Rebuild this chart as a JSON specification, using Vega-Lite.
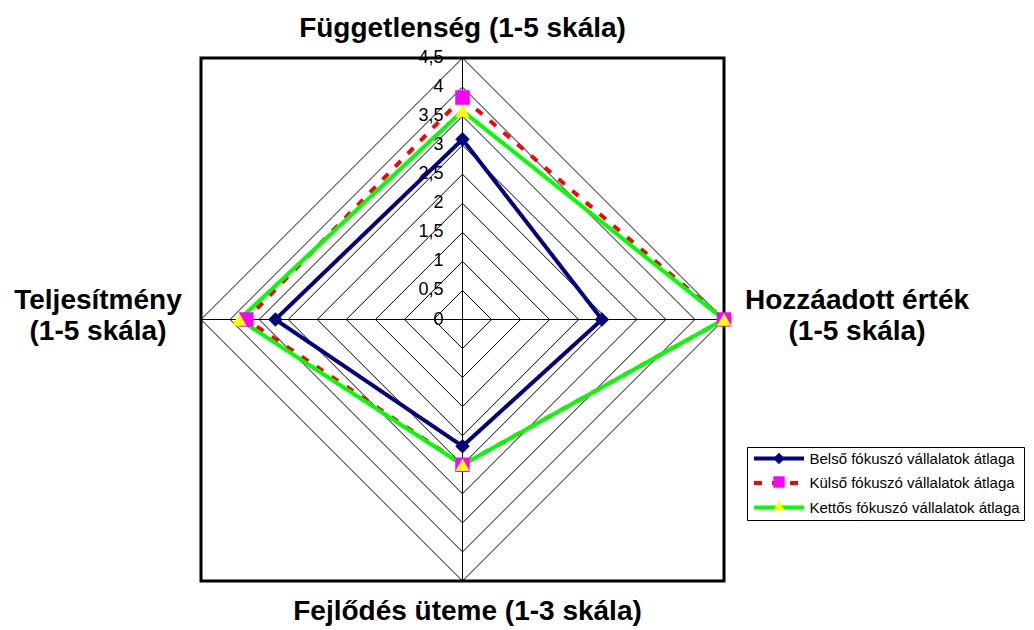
{
  "$schema": "https://vega.github.io/schema/vega-lite/v6.json",
  "width": 523,
  "height": 523,
  "autosize": {"type": "none"},
  "padding": {"left": 201, "top": 58, "right": 310, "bottom": 49},
  "background": "white",
  "config": {
    "view": {"stroke": "black", "strokeWidth": 3},
    "font": "Liberation Sans"
  },
  "datasets": {
    "series": [
      {"s": "Belső fókuszó vállalatok átlaga", "k": 0, "v": 3.1},
      {"s": "Belső fókuszó vállalatok átlaga", "k": 1, "v": 2.4},
      {"s": "Belső fókuszó vállalatok átlaga", "k": 2, "v": 2.18},
      {"s": "Belső fókuszó vállalatok átlaga", "k": 3, "v": 3.22},
      {"s": "Belső fókuszó vállalatok átlaga", "k": 4, "v": 3.1},
      {"s": "Külső fókuszó vállalatok átlaga", "k": 0, "v": 3.82},
      {"s": "Külső fókuszó vállalatok átlaga", "k": 1, "v": 4.5},
      {"s": "Külső fókuszó vállalatok átlaga", "k": 2, "v": 2.5},
      {"s": "Külső fókuszó vállalatok átlaga", "k": 3, "v": 3.72},
      {"s": "Külső fókuszó vállalatok átlaga", "k": 4, "v": 3.82},
      {"s": "Kettős fókuszó vállalatok átlaga", "k": 0, "v": 3.59},
      {"s": "Kettős fókuszó vállalatok átlaga", "k": 1, "v": 4.5},
      {"s": "Kettős fókuszó vállalatok átlaga", "k": 2, "v": 2.5},
      {"s": "Kettős fókuszó vállalatok átlaga", "k": 3, "v": 3.84},
      {"s": "Kettős fókuszó vállalatok átlaga", "k": 4, "v": 3.59}
    ],
    "grid": [
      {"r": 0.5, "k": [0, 1, 2, 3, 4]},
      {"r": 1, "k": [0, 1, 2, 3, 4]},
      {"r": 1.5, "k": [0, 1, 2, 3, 4]},
      {"r": 2, "k": [0, 1, 2, 3, 4]},
      {"r": 2.5, "k": [0, 1, 2, 3, 4]},
      {"r": 3, "k": [0, 1, 2, 3, 4]},
      {"r": 3.5, "k": [0, 1, 2, 3, 4]},
      {"r": 4, "k": [0, 1, 2, 3, 4]},
      {"r": 4.5, "k": [0, 1, 2, 3, 4]}
    ],
    "spokes": [
      {"x": 0, "y": -4.5, "x2": 0, "y2": 4.5},
      {"x": -4.5, "y": 0, "x2": 4.5, "y2": 0}
    ],
    "ticks": [
      {"v": 0, "t": "0"},
      {"v": 0.5, "t": "0,5"},
      {"v": 1, "t": "1"},
      {"v": 1.5, "t": "1,5"},
      {"v": 2, "t": "2"},
      {"v": 2.5, "t": "2,5"},
      {"v": 3, "t": "3"},
      {"v": 3.5, "t": "3,5"},
      {"v": 4, "t": "4"},
      {"v": 4.5, "t": "4,5"}
    ]
  },
  "encoding": {
    "x": {"type": "quantitative", "scale": {"domain": [-4.5, 4.5], "nice": false, "zero": false}, "axis": null},
    "y": {"type": "quantitative", "scale": {"domain": [-4.5, 4.5], "nice": false, "zero": false}, "axis": null}
  },
  "layer": [
    {
      "data": {"name": "grid"},
      "transform": [
        {"flatten": ["k"]},
        {"calculate": "datum.r * sin(datum.k * PI / 2)", "as": "gx"},
        {"calculate": "datum.r * cos(datum.k * PI / 2)", "as": "gy"}
      ],
      "mark": {"type": "line", "color": "black", "strokeWidth": 1},
      "encoding": {
        "x": {"field": "gx", "type": "quantitative"},
        "y": {"field": "gy", "type": "quantitative"},
        "detail": {"field": "r", "type": "nominal"},
        "order": {"field": "k", "type": "quantitative"}
      }
    },
    {
      "data": {"name": "spokes"},
      "mark": {"type": "rule", "color": "black", "strokeWidth": 1},
      "encoding": {
        "x": {"field": "x", "type": "quantitative"},
        "y": {"field": "y", "type": "quantitative"},
        "x2": {"field": "x2"},
        "y2": {"field": "y2"}
      }
    },
    {
      "data": {"name": "ticks"},
      "mark": {"type": "text", "align": "right", "baseline": "middle", "dx": -19, "fontSize": 18, "color": "black", "font": "Liberation Sans"},
      "encoding": {
        "x": {"datum": 0},
        "y": {"field": "v", "type": "quantitative"},
        "text": {"field": "t"}
      }
    },
    {
      "data": {"name": "series"},
      "transform": [
        {"calculate": "datum.v * sin(datum.k * PI / 2)", "as": "px"},
        {"calculate": "datum.v * cos(datum.k * PI / 2)", "as": "py"}
      ],
      "mark": {"type": "line", "strokeWidth": 4},
      "encoding": {
        "x": {"field": "px", "type": "quantitative"},
        "y": {"field": "py", "type": "quantitative"},
        "order": {"field": "k", "type": "quantitative"},
        "color": {
          "field": "s", "type": "nominal",
          "scale": {"domain": ["Belső fókuszó vállalatok átlaga", "Külső fókuszó vállalatok átlaga", "Kettős fókuszó vállalatok átlaga"], "range": ["#000080", "#FF0000", "#00FF00"]},
          "legend": {
            "orient": "none", "legendX": 546, "legendY": 389, "title": null,
            "padding": 4, "strokeColor": "black", "fillColor": "white",
            "symbolType": "M-6.25,0H6.25", "symbolSize": 64, "symbolStrokeWidth": 4,
            "symbolOffset": 20.5, "labelOffset": 23, "labelFontSize": 15,
            "labelFont": "Liberation Sans", "labelColor": "black", "rowPadding": 7.5, "labelLimit": 300,
            "encode": {"symbols": {"update": {"strokeDash": {"signal": "datum.index == 1 ? [9, 11] : [1, 0]"}}}}
          }
        },
        "strokeDash": {
          "field": "s", "type": "nominal",
          "scale": {"domain": ["Belső fókuszó vállalatok átlaga", "Külső fókuszó vállalatok átlaga", "Kettős fókuszó vállalatok átlaga"], "range": [[1, 0], [8, 10], [1, 0]]},
          "legend": null
        }
      }
    },
    {
      "data": {"name": "series"},
      "transform": [
        {"filter": "datum.k < 4"},
        {"calculate": "datum.v * sin(datum.k * PI / 2)", "as": "px"},
        {"calculate": "datum.v * cos(datum.k * PI / 2)", "as": "py"}
      ],
      "mark": {"type": "point", "filled": true, "opacity": 1, "size": 210, "strokeWidth": 0},
      "encoding": {
        "x": {"field": "px", "type": "quantitative"},
        "y": {"field": "py", "type": "quantitative"},
        "fill": {
          "field": "s", "type": "nominal", "sort": null,
          "scale": {"range": ["#000080", "#FF00FF", "#FFFF00"]},
          "legend": {
            "orient": "none", "legendX": 546, "legendY": 389, "title": null,
            "padding": 4, "symbolSize": 130, "symbolStrokeWidth": 0, "symbolOpacity": 1,
            "symbolOffset": 20.5, "labelOffset": 23, "labelFontSize": 15, "labelExpr": "''",
            "labelFont": "Liberation Sans", "rowPadding": 7.5, "labelLimit": 300,
            "encode": {"symbols": {"update": {"size": {"value": 130}, "opacity": {"value": 1}}}}
          }
        },
        "shape": {
          "field": "s", "type": "nominal", "sort": null,
          "scale": {"range": ["diamond", "square", "triangle-up"]}
        }
      }
    },
    {
      "data": {"values": [{"t": "Függetlenség (1-5 skála)"}]},
      "mark": {"type": "text", "align": "center", "baseline": "alphabetic", "dy": -21, "fontSize": 28, "fontWeight": "bold", "color": "black", "font": "Liberation Sans"},
      "encoding": {"x": {"datum": 0}, "y": {"datum": 4.5}, "text": {"field": "t"}}
    },
    {
      "data": {"values": [{"t": "Fejlődés üteme (1-3 skála)"}]},
      "mark": {"type": "text", "align": "center", "baseline": "alphabetic", "dy": 39, "dx": 5, "fontSize": 28, "fontWeight": "bold", "color": "black", "font": "Liberation Sans"},
      "encoding": {"x": {"datum": 0}, "y": {"datum": -4.5}, "text": {"field": "t"}}
    },
    {
      "data": {"values": [{"t": ["Teljesítmény", "(1-5 skála)"]}]},
      "mark": {"type": "text", "align": "center", "baseline": "alphabetic", "dx": -103, "dy": -11, "lineHeight": 31, "fontSize": 28, "fontWeight": "bold", "color": "black", "font": "Liberation Sans"},
      "encoding": {"x": {"datum": -4.5}, "y": {"datum": 0}, "text": {"field": "t"}}
    },
    {
      "data": {"values": [{"t": ["Hozzáadott érték", "(1-5 skála)"]}]},
      "mark": {"type": "text", "align": "center", "baseline": "alphabetic", "dx": 133, "dy": -11, "lineHeight": 31, "fontSize": 28, "fontWeight": "bold", "color": "black", "font": "Liberation Sans"},
      "encoding": {"x": {"datum": 4.5}, "y": {"datum": 0}, "text": {"field": "t"}}
    }
  ]
}
